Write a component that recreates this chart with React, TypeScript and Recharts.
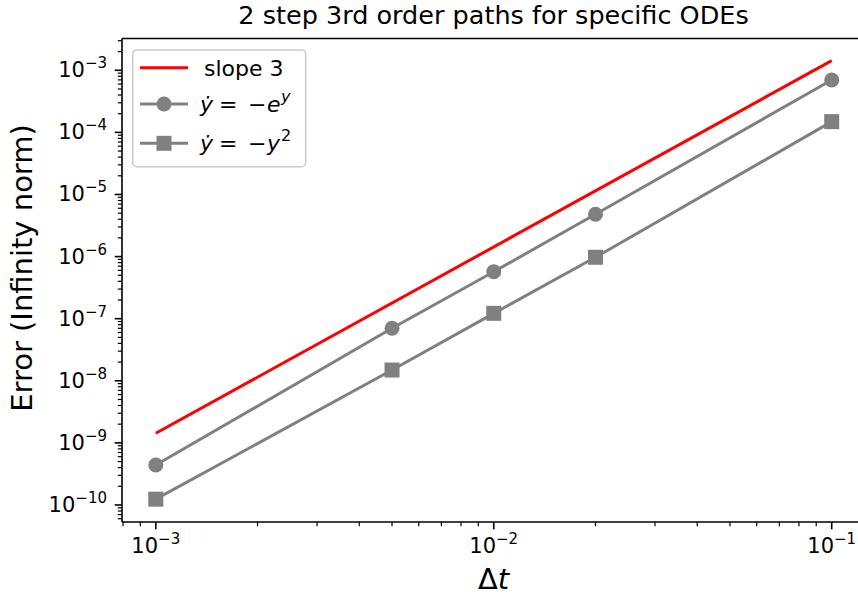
import { LineChart, Line, XAxis, YAxis, ReferenceLine } from 'recharts'

// values (log-log)
const slopeDt = [1e-3, 1e-1]
const slopeErr = [1.43e-9, 1.43e-3]

const pointDt = [1e-3, 5e-3, 1e-2, 2e-2, 1e-1]
const expErr = [4.41e-10, 7.0e-8, 5.71e-7, 4.8e-6, 6.99e-4]
const sqErr = [1.24e-10, 1.49e-8, 1.22e-7, 9.75e-7, 1.49e-4]

const xExps = [-3, -2, -1]
const yExps = [-10, -9, -8, -7, -6, -5, -4, -3]

const xDomain = [7.943e-4, 0.1259]
const yDomain = [5.32e-11, 3.25e-3]

const FONT = '"DejaVu Sans", sans-serif'
const GREY = '#808080'
const RED = '#ff0000'

const slopeData = slopeDt.map((dt, i) => ({ dt, err: slopeErr[i] }))
const expData = pointDt.map((dt, i) => ({ dt, err: expErr[i] }))
const sqData = pointDt.map((dt, i) => ({ dt, err: sqErr[i] }))

// majors from the exponent lists, plus 2..9 minors inside the domain
const buildTicks = (exps: number[], domain: number[]) => {
  const out: number[] = []
  const all = [exps[0] - 1, ...exps]
  for (const e of all) {
    for (let k = 1; k < 10; k++) {
      const v = k * Math.pow(10, e)
      if (v >= domain[0] && v <= domain[1]) out.push(v)
    }
  }
  return out
}
const xTicks = buildTicks(xExps, xDomain)
const yTicks = buildTicks(yExps, yDomain)

const majorExp = (v: number) => {
  const l = Math.log10(v)
  const r = Math.round(l)
  return Math.abs(l - r) < 1e-6 ? r : null
}

const Pow = ({ exp }: { exp: number }) => (
  <>
    <tspan>10</tspan>
    <tspan fontSize={15} dy={-9}>{'\u2212' + Math.abs(exp)}</tspan>
  </>
)

const XTick = (props: any) => {
  const { x, y, payload } = props
  const e = majorExp(payload.value)
  const len = e === null ? 4.2 : 7.3
  return (
    <g>
      <line x1={x} x2={x} y1={y} y2={y + len} stroke="#000" strokeWidth={e === null ? 1.2 : 1.6} />
      {e !== null && (
        <text x={x} y={y + 31} textAnchor="middle" fontSize={21} fontFamily={FONT} fill="#000">
          <Pow exp={e} />
        </text>
      )}
    </g>
  )
}

const YTick = (props: any) => {
  const { x, y, payload } = props
  const e = majorExp(payload.value)
  const len = e === null ? 4.2 : 7.3
  return (
    <g>
      <line x1={x} x2={x - len} y1={y} y2={y} stroke="#000" strokeWidth={e === null ? 1.2 : 1.6} />
      {e !== null && (
        <text x={x - 15} y={y + 7} textAnchor="end" fontSize={21} fontFamily={FONT} fill="#000">
          <Pow exp={e} />
        </text>
      )}
    </g>
  )
}

const SquareDot = (props: any) => {
  const { cx, cy } = props
  if (cx == null || cy == null) return null
  return <rect x={cx - 7.5} y={cy - 7.5} width={15} height={15} fill={GREY} />
}

const Legend = () => (
  <g fontFamily={FONT} fontSize={22} fill="#000">
    <rect x={132.7} y={50} width={173} height={116.7} rx={4} fill="#fff" fillOpacity={0.8} stroke="#cccccc" strokeWidth={1.6} />
    <line x1={140} x2={188} y1={67.7} y2={67.7} stroke={RED} strokeWidth={3} />
    <text x={204} y={75.5}>slope 3</text>
    <line x1={140} x2={188} y1={104} y2={104} stroke={GREY} strokeWidth={3} />
    <circle cx={164} cy={104} r={7.5} fill={GREY} />
    <text y={111.5}>
      <tspan x={200} fontStyle="italic">{'y\u0307'}</tspan>
      <tspan x={219}>=</tspan>
      <tspan x={248}>{'\u2212'}</tspan>
      <tspan x={267} fontStyle="italic">e</tspan>
      <tspan x={281} fontStyle="italic" fontSize={16} dy={-10}>y</tspan>
    </text>
    <line x1={140} x2={188} y1={143.3} y2={143.3} stroke={GREY} strokeWidth={3} />
    <rect x={156.5} y={135.8} width={15} height={15} fill={GREY} />
    <text y={151}>
      <tspan x={200} fontStyle="italic">{'y\u0307'}</tspan>
      <tspan x={219}>=</tspan>
      <tspan x={248}>{'\u2212'}</tspan>
      <tspan x={267} fontStyle="italic">y</tspan>
      <tspan x={281} fontSize={16} dy={-10}>2</tspan>
    </text>
  </g>
)

export default function App() {
  return (
    <div style={{ position: 'absolute', left: 0, top: 0, width: 858, height: 597, background: '#fff' }}>
      <LineChart
        width={858}
        height={597}
        margin={{ top: 38.5, right: -7.5, bottom: 0, left: 0 }}
      >
        <XAxis
          dataKey="dt"
          type="number"
          scale="log"
          domain={xDomain}
          allowDataOverflow
          ticks={xTicks}
          interval={0}
          height={75}
          tickSize={0}
          tickMargin={0}
          tickLine={false}
          axisLine={{ stroke: '#000', strokeWidth: 1.6 }}
          tick={<XTick />}
        />
        <YAxis
          dataKey="err"
          type="number"
          scale="log"
          domain={yDomain}
          allowDataOverflow
          ticks={yTicks}
          interval={0}
          width={122}
          tickSize={0}
          tickMargin={0}
          tickLine={false}
          axisLine={{ stroke: '#000', strokeWidth: 1.6 }}
          tick={<YTick />}
        />
        <ReferenceLine y={yDomain[1]} stroke="#000" strokeWidth={1.6} ifOverflow="visible" />
        <ReferenceLine x={xDomain[1]} stroke="#000" strokeWidth={1.6} ifOverflow="visible" />
        <Line
          data={slopeData}
          dataKey="err"
          type="linear"
          stroke={RED}
          strokeWidth={3}
          dot={false}
          activeDot={false}
          isAnimationActive={false}
        />
        <Line
          data={expData}
          dataKey="err"
          type="linear"
          stroke={GREY}
          strokeWidth={3}
          dot={{ r: 7.5, fill: GREY, stroke: GREY, strokeWidth: 0 }}
          activeDot={false}
          isAnimationActive={false}
        />
        <Line
          data={sqData}
          dataKey="err"
          type="linear"
          stroke={GREY}
          strokeWidth={3}
          dot={<SquareDot />}
          activeDot={false}
          isAnimationActive={false}
        />
      </LineChart>
      <svg
        width={858}
        height={597}
        style={{ position: 'absolute', left: 0, top: 0, pointerEvents: 'none' }}
      >
        <text x={493.5} y={24} textAnchor="middle" fontSize={25.5} fontFamily={FONT} fill="#000">
          2 step 3rd order paths for specific ODEs
        </text>
        <text x={493.5} y={589} textAnchor="middle" fontSize={29} fontFamily={FONT} fill="#000">
          <tspan>{'\u0394'}</tspan>
          <tspan fontStyle="italic">t</tspan>
        </text>
        <text
          transform="translate(31.7,268) rotate(-90)"
          textAnchor="middle"
          fontSize={29}
          fontFamily={FONT}
          fill="#000"
        >
          Error (Infinity norm)
        </text>
        <Legend />
      </svg>
    </div>
  )
}
